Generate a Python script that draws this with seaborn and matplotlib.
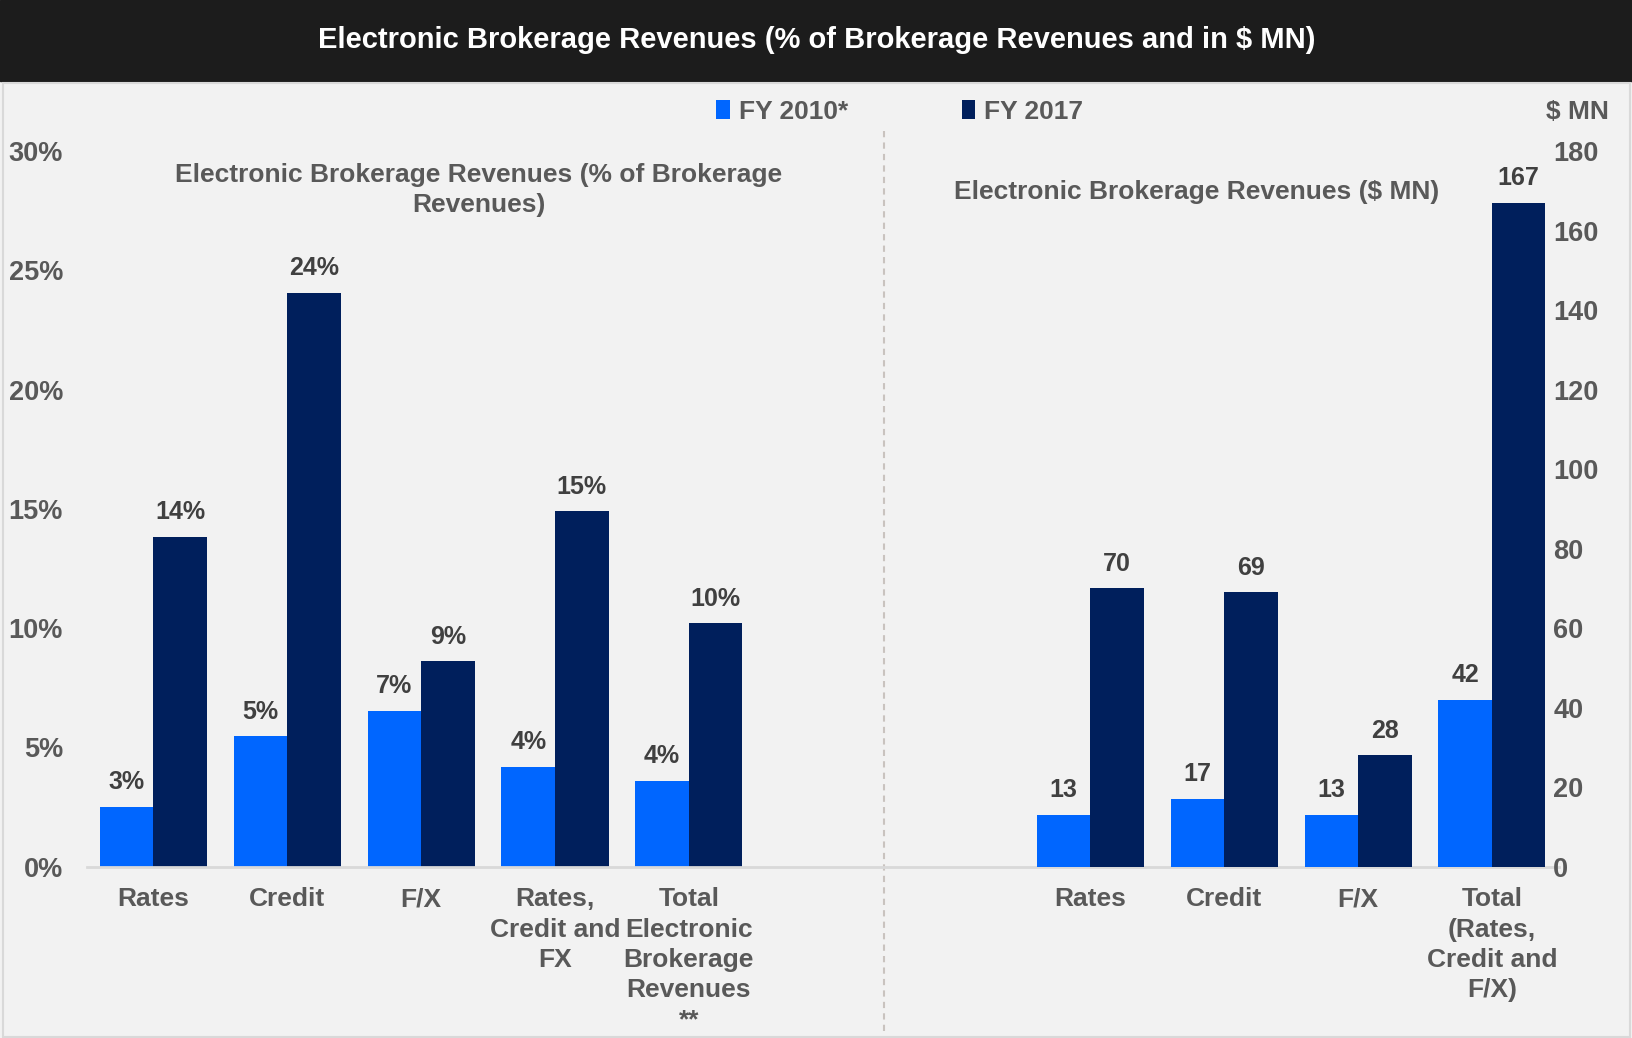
import matplotlib
matplotlib.use("Agg")
import matplotlib.pyplot as plt
import matplotlib.patches as mpatches
from matplotlib.ticker import FuncFormatter
import seaborn as sns
import pandas as pd

# ---------------- data ----------------
years = ["FY 2010*", "FY 2017"]

pct_categories = ["Rates", "Credit", "F/X", "Rates,\nCredit and\nFX",
                  "Total\nElectronic\nBrokerage\nRevenues\n**"]
pct_2010 = [2.51, 5.46, 6.53, 4.19, 3.59]
pct_2017 = [13.83, 24.05, 8.61, 14.90, 10.21]

mn_categories = ["Rates", "Credit", "F/X", "Total\n(Rates,\nCredit and\nF/X)"]
mn_2010 = [13, 17, 13, 42]
mn_2017 = [70, 69, 28, 167]

pct_ticks = [0, 5, 10, 15, 20, 25, 30]
mn_ticks = [0, 20, 40, 60, 80, 100, 120, 140, 160, 180]

title = "Electronic Brokerage Revenues (% of Brokerage Revenues and in $ MN)"
pct_subtitle = "Electronic Brokerage Revenues (% of Brokerage\nRevenues)"
mn_subtitle = "Electronic Brokerage Revenues ($ MN)"

# ---------------- frames ----------------
pct_keys = ["pct|" + c for c in pct_categories]
mn_keys = ["mn|" + c for c in mn_categories]
gap_keys = ["gap|1", "gap|2"]
order = pct_keys + gap_keys + mn_keys
tick_labels = pct_categories + ["", ""] + mn_categories

pct_df = pd.DataFrame({
    "key": pct_keys * 2,
    "year": [years[0]] * len(pct_keys) + [years[1]] * len(pct_keys),
    "value": pct_2010 + pct_2017,
})
mn_df = pd.DataFrame({
    "key": mn_keys * 2,
    "year": [years[0]] * len(mn_keys) + [years[1]] * len(mn_keys),
    "value": mn_2010 + mn_2017,
})

# ---------------- style ----------------
sns.set_theme(style="white")
plt.rcParams["font.family"] = ["Liberation Sans", "DejaVu Sans"]
plt.rcParams["font.weight"] = "bold"

BG = "#f2f2f2"
C2010 = "#0066ff"
C2017 = "#001f5c"
TXT = "#595959"
LBL = "#404040"
FS = 19
FS_TICK = 19.5
FS_LBL = 18
palette = {years[0]: C2010, years[1]: C2017}

fig = plt.figure(figsize=(16.33, 10.38), dpi=100, facecolor=BG)
ax = fig.add_axes([0.053, 0.1652, 0.9016, 0.6893])
ax.set_facecolor("none")

sns.barplot(data=pct_df, x="key", y="value", hue="year", order=order,
            hue_order=years, palette=palette, saturation=1, width=0.8,
            linewidth=0, ax=ax, legend=True)
handles, labels = ax.get_legend_handles_labels()
ax.get_legend().remove()

ax2 = ax.twinx()
ax2.set_facecolor("none")
sns.barplot(data=mn_df, x="key", y="value", hue="year", order=order,
            hue_order=years, palette=palette, saturation=1, width=0.8,
            linewidth=0, ax=ax2, legend=False)

for c in ax.containers:
    ax.bar_label(c, fmt="{:.0f}%", padding=9, fontsize=FS_LBL,
                 fontweight="bold", color=LBL)
for c in ax2.containers:
    ax2.bar_label(c, fmt="{:.0f}", padding=9, fontsize=FS_LBL,
                  fontweight="bold", color=LBL)

ax.set_xlim(-0.5, len(order) - 0.5)
ax.set_ylim(pct_ticks[0], pct_ticks[-1])
ax2.set_ylim(mn_ticks[0], mn_ticks[-1])
ax.set_yticks(pct_ticks)
ax.yaxis.set_major_formatter(FuncFormatter(lambda v, p: f"{v:.0f}%"))
ax2.set_yticks(mn_ticks)

ax.set_xticks(range(len(order)))
ax.set_xticklabels(tick_labels, fontsize=FS, fontweight="bold", color=TXT,
                   linespacing=1.33)
for a in (ax, ax2):
    a.set_xlabel("")
    a.set_ylabel("")
    for s in ("top", "left", "right", "bottom"):
        a.spines[s].set_visible(False)
ax.spines["bottom"].set_visible(True)
ax.spines["bottom"].set_color("#d9d9d9")
ax.spines["bottom"].set_linewidth(2)

ax.tick_params(axis="x", length=0, pad=15)
ax.tick_params(axis="y", length=0, pad=17, labelsize=FS_TICK, labelcolor=TXT)
ax2.tick_params(axis="y", length=0, pad=-4, labelsize=FS_TICK,
                labelcolor=TXT)
for t in ax.get_yticklabels() + ax2.get_yticklabels():
    t.set_fontweight("bold")

# separator between the two panels
ax.axvline(5.46, ymin=-0.23, ymax=1.03, color="#c9c3bf", lw=1.5,
           ls=(0, (3, 2.5)), clip_on=False)

# panel subtitles
ax.text(2.43, 28.35, pct_subtitle, ha="center", va="center", fontsize=FS,
        fontweight="bold", color=TXT, linespacing=1.32)
ax.text(7.79, 28.3, mn_subtitle, ha="center", va="center", fontsize=FS,
        fontweight="bold", color=TXT)

# title bar
fig.patches.append(mpatches.Rectangle((0, 1 - 81 / 1038), 1, 81 / 1038,
                                      transform=fig.transFigure,
                                      color="#1c1c1c", zorder=0))
fig.patches.append(mpatches.Rectangle((0.002, 0.001), 0.996, 1 - 84 / 1038,
                                      transform=fig.transFigure,
                                      facecolor="none", edgecolor="#d9d9d9",
                                      lw=1.5, zorder=0))
fig.text(0.5, 1 - 40 / 1038, title, ha="center", va="center",
         color="white", fontsize=21, fontweight="bold")

# legend
leg = fig.legend(handles, labels, loc="center", ncol=2,
                 bbox_to_anchor=(0.551, 1 - 112 / 1038), frameon=False,
                 handlelength=0.5, handleheight=0.75, handletextpad=0.35,
                 columnspacing=4.3, prop={"size": FS, "weight": "bold"})
for t in leg.get_texts():
    t.set_color(TXT)

fig.text(0.966, 1 - 112 / 1038, "$ MN", ha="center", va="center",
         fontsize=FS, fontweight="bold", color=TXT)

fig.savefig("out.png", dpi=100, facecolor=BG)
